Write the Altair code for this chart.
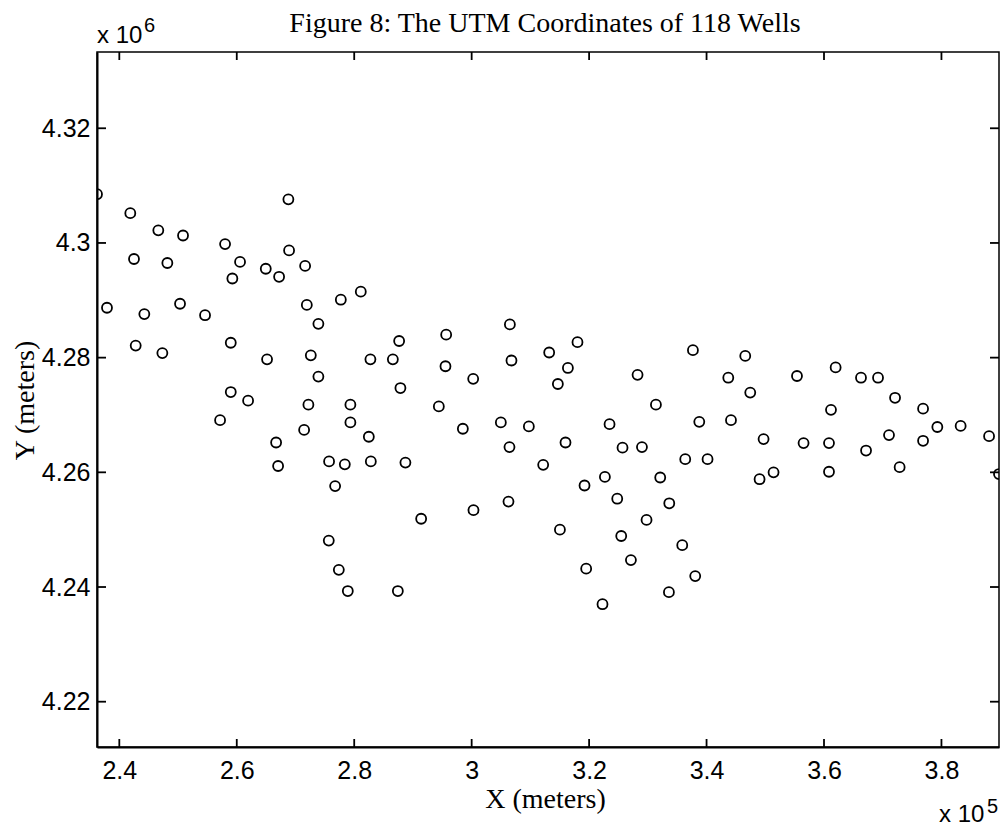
import altair as alt
import pandas as pd

# Well coordinates, in axis units (X in 10^5 m, Y in 10^6 m)
x_vals = [
    2.3620, 2.4187, 2.4664, 2.5085, 2.6879, 2.5801, 2.6891, 2.4250, 2.4818, 2.6056,
    2.6494, 2.6721, 2.7164, 2.5925, 2.3790, 2.4426, 2.5034, 2.5460, 2.7193, 2.7772,
    2.8112, 2.7390, 2.4279, 2.4733, 2.5898, 2.6516, 2.7261, 2.8276, 2.8658, 2.7390,
    2.5898, 2.6193, 2.7220, 2.7935, 2.5716, 2.7147, 2.7935, 2.8249, 2.6670, 2.6704,
    2.7572, 2.7840, 2.8283, 2.7675, 2.7567, 2.7738, 2.7891, 2.8765, 2.9566, 3.0651,
    3.1802, 3.1320, 3.0678, 2.9554, 3.1639, 3.0026, 2.8787, 3.1468, 3.2825, 3.3768,
    2.9441, 3.3138, 3.4659, 3.4370, 3.4744, 3.5540, 3.6198, 3.6630, 3.6920, 3.7210,
    3.6119, 3.7687, 2.9850, 3.0497, 3.0974, 3.2348, 3.0644, 3.1598, 3.2569, 3.2900,
    3.3637, 2.8872, 3.1218, 3.1922, 3.2269, 3.3211, 3.2479, 3.3365, 3.0627, 3.0031,
    2.9140, 3.2978, 3.1503, 3.2547, 3.3586, 3.2712, 3.1950, 3.3807, 2.8743, 3.3359,
    3.2228, 3.3876, 3.4416, 3.4971, 3.5652, 3.6085, 3.6716, 3.7107, 3.7687, 3.7930,
    3.8327, 3.8811, 3.4017, 3.4903, 3.5141, 3.6085, 3.7288, 3.8980,
]
y_vals = [
    4.3085, 4.3052, 4.3022, 4.3013, 4.3076, 4.2998, 4.2987, 4.2972, 4.2965, 4.2967,
    4.2955, 4.2941, 4.2960, 4.2938, 4.2887, 4.2876, 4.2894, 4.2874, 4.2892, 4.2901,
    4.2915, 4.2859, 4.2821, 4.2808, 4.2826, 4.2797, 4.2804, 4.2797, 4.2797, 4.2767,
    4.2740, 4.2725, 4.2718, 4.2718, 4.2691, 4.2674, 4.2687, 4.2662, 4.2652, 4.2611,
    4.2619, 4.2614, 4.2619, 4.2576, 4.2481, 4.2430, 4.2393, 4.2829, 4.2840, 4.2858,
    4.2827, 4.2809, 4.2795, 4.2785, 4.2782, 4.2763, 4.2747, 4.2754, 4.2770, 4.2813,
    4.2715, 4.2718, 4.2803, 4.2765, 4.2739, 4.2768, 4.2783, 4.2765, 4.2765, 4.2730,
    4.2709, 4.2711, 4.2676, 4.2687, 4.2680, 4.2684, 4.2644, 4.2652, 4.2643, 4.2644,
    4.2623, 4.2617, 4.2613, 4.2577, 4.2592, 4.2591, 4.2554, 4.2546, 4.2549, 4.2534,
    4.2519, 4.2517, 4.2500, 4.2489, 4.2473, 4.2447, 4.2432, 4.2419, 4.2393, 4.2391,
    4.2370, 4.2688, 4.2691, 4.2658, 4.2651, 4.2651, 4.2638, 4.2665, 4.2655, 4.2679,
    4.2681, 4.2663, 4.2623, 4.2588, 4.2600, 4.2601, 4.2609, 4.2597,
]

x_ticks = [2.4, 2.6, 2.8, 3.0, 3.2, 3.4, 3.6, 3.8]
y_ticks = [4.22, 4.24, 4.26, 4.28, 4.30, 4.32]
x_domain = [2.362, 3.898]
y_domain = [4.2121, 4.3333]

title_text = ["Figure 8: The UTM Coordinates of 118 Wells"]
x_mult = ["x 10"]
x_exp = ["5"]
y_mult = ["x 10"]
y_exp = ["6"]

W, H = 902, 695

xs = alt.Scale(domain=x_domain, nice=False, zero=False)
ys = alt.Scale(domain=y_domain, nice=False, zero=False)

x_axis = alt.Axis(
    values=x_ticks, format=".1~f", title="X (meters)",
    titleX=448, titleY=60, titleAlign="center", titleBaseline="alphabetic",
    labelPadding=11,
)
y_axis = alt.Axis(
    values=y_ticks, format=".2~f", title="Y (meters)",
    titleX=-64, titleY=348, titleAngle=270, titleAlign="center",
    titleBaseline="alphabetic", labelPadding=7,
)

wells = pd.DataFrame({"x": x_vals, "y": y_vals})
xt = pd.DataFrame({"x": x_ticks})
yt = pd.DataFrame({"y": y_ticks})

points = alt.Chart(wells).mark_point(
    shape="circle", filled=False, color="black", size=100, strokeWidth=1.8,
    opacity=1, clip=True,
).encode(
    x=alt.X("x:Q", scale=xs, axis=x_axis),
    y=alt.Y("y:Q", scale=ys, axis=y_axis),
)

tick_style = dict(color="black", strokeWidth=1.8)
bottom_ticks = alt.Chart(xt).mark_rule(**tick_style).encode(
    x=alt.X("x:Q", scale=xs, axis=x_axis), y=alt.value(H), y2=alt.value(H - 8))
top_ticks = alt.Chart(xt).mark_rule(**tick_style).encode(
    x=alt.X("x:Q", scale=xs, axis=x_axis), y=alt.value(0), y2=alt.value(8))
left_ticks = alt.Chart(yt).mark_rule(**tick_style).encode(
    y=alt.Y("y:Q", scale=ys, axis=y_axis), x=alt.value(0), x2=alt.value(9))
right_ticks = alt.Chart(yt).mark_rule(**tick_style).encode(
    y=alt.Y("y:Q", scale=ys, axis=y_axis), x=alt.value(W), x2=alt.value(W - 9))


def label(texts, x, y, size, font="Liberation Sans", align="left"):
    return alt.Chart(pd.DataFrame({"s": texts})).mark_text(
        font=font, fontSize=size, color="black", align=align,
        baseline="alphabetic",
    ).encode(x=alt.value(x), y=alt.value(y), text="s:N")


title = label(title_text, 448, -20, 28, font="Liberation Serif", align="center")
ymul = label(y_mult, 0, -9, 24)
yexp = label(y_exp, 47, -20, 20)
xmul = label(x_mult, 842, 770, 24)
xexp = label(x_exp, 890, 761, 20)

chart = alt.layer(
    points, bottom_ticks, top_ticks, left_ticks, right_ticks,
    title, ymul, yexp, xmul, xexp,
).properties(
    width=W, height=H,
    padding={"left": 97, "top": 52, "right": 3, "bottom": 86},
    autosize=alt.AutoSizeParams(type="none"),
    background="white",
).configure_view(
    stroke="black", strokeWidth=1.5,
).configure_axis(
    grid=False, ticks=False, tickSize=0,
    domainColor="black", domainWidth=2,
    labelFont="Liberation Sans", labelFontSize=25, labelColor="black",
    titleFont="Liberation Serif", titleFontSize=28, titleFontWeight="normal",
    titleColor="black",
)

chart.save("out.html", embed_options={"renderer": "svg", "actions": False})
